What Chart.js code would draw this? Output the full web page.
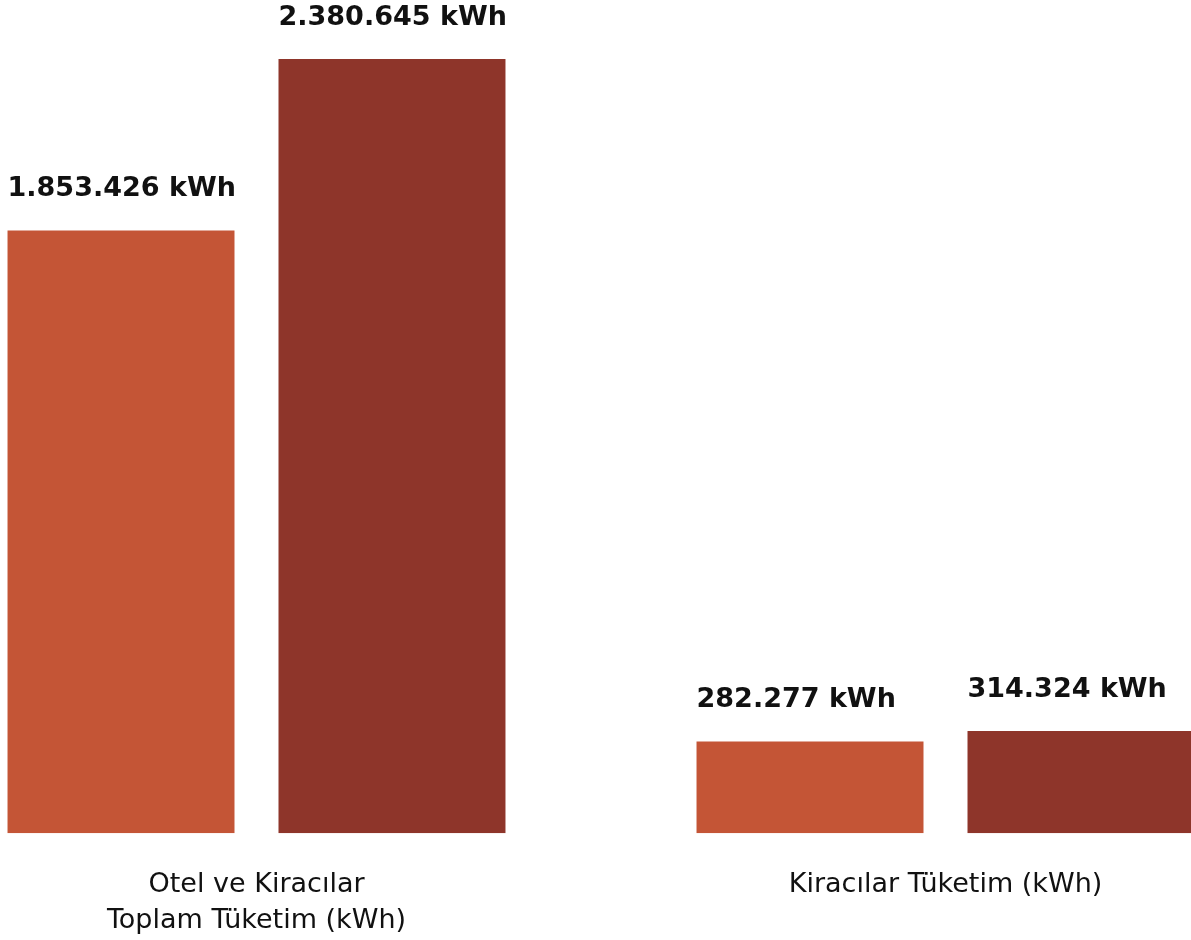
<!DOCTYPE html>
<html lang="tr">
<head>
  <meta charset="UTF-8" />
  <title>Enerji Tüketimi</title>
  <script src="https://cdn.jsdelivr.net/npm/chart.js"></script>
  <style>
    * { margin: 0; padding: 0; box-sizing: border-box; }
    body { background: #fff; width: 1191px; height: 940px; overflow: hidden; }
    .wrap { position: relative; width: 1191px; height: 940px; overflow: hidden; }
    #chart { position: absolute; left: -88px; top: 0; }
  </style>
</head>
<body>
  <div class="wrap">
    <canvas id="chart" width="1378" height="965"></canvas>
  </div>

  <script>
    const categories = [['Otel ve Kiracılar', 'Toplam Tüketim (kWh)'], 'Kiracılar Tüketim (kWh)'];
    const seriesA = [1853426, 282277];
    const seriesB = [2380645, 314324];
    const colors = ['#C45536', '#8E352A'];

    const fmt = v => v.toLocaleString('de-DE') + ' kWh';

    // value labels, left aligned with the bar, above its top
    const valueLabels = {
      id: 'valueLabels',
      afterDatasetsDraw(chart) {
        const ctx = chart.ctx;
        ctx.save();
        ctx.font = 'bold 27px "DejaVu Sans"';
        ctx.fillStyle = '#111';
        ctx.textAlign = 'left';
        ctx.textBaseline = 'middle';
        chart.data.datasets.forEach((ds, i) => {
          chart.getDatasetMeta(i).data.forEach((bar, j) => {
            ctx.fillText(fmt(ds.data[j]), bar.x - bar.width / 2, bar.y - 41);
          });
        });
        ctx.restore();
      }
    };

    new Chart(document.getElementById('chart'), {
      type: 'bar',
      data: {
        labels: categories,
        datasets: [
          { data: seriesA, backgroundColor: colors[0] },
          { data: seriesB, backgroundColor: colors[1] }
        ]
      },
      options: {
        responsive: false,
        animation: false,
        layout: { padding: 0 },
        datasets: { bar: { categoryPercentage: 0.7866, barPercentage: 0.8376 } },
        plugins: { legend: { display: false }, tooltip: { enabled: false } },
        scales: {
          x: {
            grid: { display: false },
            border: { display: false },
            ticks: {
              color: '#111',
              padding: 26,
              maxRotation: 0,
              font: { family: 'DejaVu Sans', size: 27, lineHeight: 1.33 }
            }
          },
          y: { display: false, min: 0, max: 2562000 }
        }
      },
      plugins: [valueLabels]
    });
  </script>
</body>
</html>
